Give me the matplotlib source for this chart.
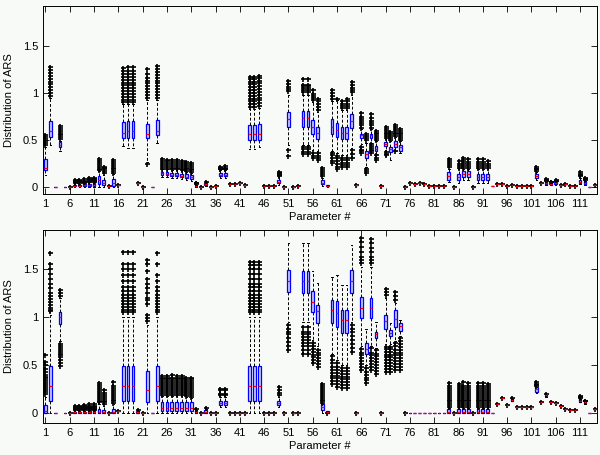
import numpy as np
import matplotlib
matplotlib.use("Agg")
import matplotlib.pyplot as plt

plt.rcParams["font.family"] = ["Liberation Sans", "DejaVu Sans"]

# parameter numbers 1..114
params = list(range(1, 115))
xtick_vals = list(range(1, 115, 5))
ytick_vals = [0, 0.5, 1, 1.5]
ytick_labels = ["0", "0.5", "1", "1.5"]

# ---- top panel: whisker low, q1, median, q3, whisker high ----
top_lo = [0.13, 0.45, 0, 0.38, 0, 0, 0, 0, 0, 0,
          0, 0, 0, 0.02, 0, 0.03, 0.44, 0.42, 0.42, 0.045,
          0, 0.27, 0, 0.47, 0.11, 0.11, 0.10, 0.10, 0.09, 0.08,
          0.07, 0, 0, 0.02, 0, 0.01, 0.10, 0.10, 0.04, 0.035,
          0.05, 0.03, 0.41, 0.41, 0.43, 0.01, 0.01, 0.01, 0.03, 0,
          0.45, 0, 0.015, 0.45, 0.45, 0.40, 0.38, 0.02, 0, 0.38,
          0.36, 0.34, 0.34, 0.42, 0.03, 0.46, 0.22, 0.47, 0.35, 0.01,
          0.40, 0.29, 0.39, 0.36, 0, 0.046, 0.04, 0.045, 0.04, 0.01,
          0.02, 0.02, 0.02, 0.06, 0, 0.05, 0.08, 0.08, 0, 0.05,
          0.05, 0.05, 0.01, 0.035, 0.04, 0.01, 0.03, 0.02, 0.02, 0.02,
          0.02, 0.08, 0.045, 0.03, 0.03, 0.03, 0.03, 0.035, 0.02, 0.01,
          0.04, 0.03, 0, 0.03]
top_q1 = [0.18, 0.53, 0, 0.43, 0, 0, 0.01, 0.01, 0.015, 0.02,
          0.02, 0.04, 0.03, 0.02, 0.02, 0.03, 0.52, 0.52, 0.52, 0.045,
          0, 0.52, 0, 0.55, 0.13, 0.13, 0.12, 0.12, 0.11, 0.10,
          0.09, 0.01, 0, 0.03, 0, 0.01, 0.12, 0.12, 0.04, 0.035,
          0.05, 0.03, 0.50, 0.50, 0.50, 0.01, 0.01, 0.01, 0.05, 0,
          0.64, 0, 0.015, 0.64, 0.64, 0.57, 0.51, 0.035, 0.01, 0.57,
          0.53, 0.51, 0.51, 0.63, 0.03, 0.52, 0.31, 0.52, 0.38, 0.01,
          0.44, 0.37, 0.43, 0.38, 0, 0.046, 0.04, 0.045, 0.04, 0.01,
          0.02, 0.02, 0.02, 0.08, 0, 0.08, 0.11, 0.11, 0, 0.08,
          0.08, 0.08, 0.01, 0.035, 0.04, 0.01, 0.03, 0.02, 0.02, 0.02,
          0.02, 0.10, 0.045, 0.04, 0.035, 0.04, 0.03, 0.035, 0.02, 0.01,
          0.05, 0.04, 0, 0.03]
top_med = [0.21, 0.60, 0, 0.45, 0, 0, 0.02, 0.02, 0.025, 0.03,
           0.03, 0.08, 0.05, 0.02, 0.05, 0.03, 0.58, 0.60, 0.60, 0.045,
           0, 0.57, 0, 0.60, 0.15, 0.145, 0.135, 0.135, 0.125, 0.115,
           0.105, 0.02, 0, 0.04, 0, 0.01, 0.135, 0.135, 0.04, 0.035,
           0.05, 0.03, 0.57, 0.57, 0.57, 0.01, 0.01, 0.01, 0.06, 0,
           0.72, 0, 0.015, 0.73, 0.73, 0.64, 0.58, 0.05, 0.015, 0.64,
           0.61, 0.58, 0.58, 0.70, 0.03, 0.55, 0.35, 0.55, 0.41, 0.01,
           0.46, 0.41, 0.46, 0.43, 0, 0.046, 0.04, 0.045, 0.04, 0.01,
           0.02, 0.02, 0.02, 0.12, 0, 0.11, 0.14, 0.14, 0, 0.11,
           0.11, 0.11, 0.01, 0.035, 0.04, 0.01, 0.03, 0.02, 0.02, 0.02,
           0.02, 0.12, 0.045, 0.05, 0.04, 0.05, 0.03, 0.035, 0.02, 0.01,
           0.06, 0.05, 0, 0.03]
top_q3 = [0.30, 0.70, 0, 0.48, 0, 0, 0.03, 0.03, 0.035, 0.04,
          0.045, 0.12, 0.08, 0.02, 0.09, 0.03, 0.69, 0.70, 0.70, 0.045,
          0, 0.67, 0, 0.71, 0.16, 0.16, 0.155, 0.155, 0.145, 0.14,
          0.135, 0.025, 0, 0.05, 0, 0.01, 0.15, 0.15, 0.04, 0.035,
          0.05, 0.03, 0.66, 0.66, 0.67, 0.01, 0.01, 0.01, 0.08, 0,
          0.80, 0, 0.015, 0.81, 0.81, 0.71, 0.64, 0.08, 0.03, 0.72,
          0.68, 0.64, 0.64, 0.78, 0.03, 0.57, 0.38, 0.57, 0.44, 0.01,
          0.48, 0.43, 0.49, 0.45, 0, 0.046, 0.04, 0.045, 0.04, 0.01,
          0.02, 0.02, 0.02, 0.16, 0, 0.145, 0.17, 0.17, 0, 0.14,
          0.14, 0.14, 0.01, 0.035, 0.04, 0.01, 0.03, 0.02, 0.02, 0.02,
          0.02, 0.145, 0.045, 0.06, 0.05, 0.06, 0.03, 0.035, 0.02, 0.01,
          0.08, 0.07, 0, 0.03]
top_hi = [0.43, 0.95, 0, 0.49, 0, 0, 0.04, 0.04, 0.045, 0.055,
          0.055, 0.17, 0.13, 0.02, 0.14, 0.03, 0.88, 0.88, 0.88, 0.045,
          0, 0.92, 0, 0.93, 0.19, 0.19, 0.18, 0.18, 0.17, 0.16,
          0.15, 0.03, 0, 0.055, 0, 0.01, 0.18, 0.18, 0.04, 0.035,
          0.05, 0.03, 0.83, 0.83, 0.84, 0.01, 0.01, 0.01, 0.11, 0,
          0.98, 0, 0.015, 0.98, 0.98, 0.90, 0.80, 0.10, 0.03, 0.91,
          0.92, 0.82, 0.82, 0.98, 0.03, 0.62, 0.47, 0.62, 0.49, 0.01,
          0.51, 0.49, 0.53, 0.49, 0, 0.046, 0.04, 0.045, 0.04, 0.01,
          0.02, 0.02, 0.02, 0.20, 0, 0.19, 0.20, 0.20, 0, 0.19,
          0.19, 0.19, 0.01, 0.035, 0.04, 0.01, 0.03, 0.02, 0.02, 0.02,
          0.02, 0.16, 0.045, 0.065, 0.05, 0.06, 0.03, 0.035, 0.02, 0.01,
          0.10, 0.07, 0, 0.03]

# outliers (parameter -> values)
top_out = {
    1: [0.45, 0.47, 0.49, 0.51, 0.53, 0.55],
    2: [0.97, 1.0, 1.03, 1.06, 1.09, 1.12, 1.15, 1.18, 1.21, 1.24, 1.27],
    4: [0.51, 0.53, 0.55, 0.57, 0.59, 0.61, 0.63, 0.65],
    6: [0.0],
    7: [0.045, 0.055, 0.065, 0.075],
    8: [0.045, 0.055, 0.065, 0.08],
    9: [0.05, 0.06, 0.07, 0.085],
    10: [0.06, 0.07, 0.08, 0.09, 0.1],
    11: [0.06, 0.07, 0.08, 0.09, 0.1],
    12: [0.18, 0.2, 0.22, 0.24, 0.26, 0.28, 0.3],
    13: [0.15, 0.17, 0.19, 0.21, 0.22],
    14: [0.02],
    15: [0.15, 0.17, 0.19, 0.21, 0.23, 0.25, 0.27, 0.29],
    16: [0.03],
    17: [0.9, 0.93, 0.96, 0.99, 1.02, 1.05, 1.08, 1.11, 1.14, 1.17, 1.2, 1.23, 1.26],
    18: [0.9, 0.93, 0.96, 0.99, 1.02, 1.05, 1.08, 1.11, 1.14, 1.17, 1.2, 1.23, 1.27],
    19: [0.9, 0.93, 0.96, 0.99, 1.02, 1.05, 1.08, 1.11, 1.14, 1.17, 1.2, 1.23, 1.27],
    20: [0.045],
    21: [0.0],
    22: [0.25, 0.95, 0.98, 1.01, 1.04, 1.07, 1.1, 1.13, 1.16, 1.2, 1.25],
    24: [0.95, 0.98, 1.01, 1.04, 1.07, 1.1, 1.13, 1.16, 1.19, 1.22, 1.25, 1.28],
    25: [0.2, 0.22, 0.24, 0.26, 0.28, 0.3],
    26: [0.2, 0.22, 0.24, 0.26, 0.28, 0.29],
    27: [0.19, 0.21, 0.23, 0.25, 0.27, 0.29],
    28: [0.19, 0.21, 0.23, 0.25, 0.27, 0.29],
    29: [0.18, 0.2, 0.22, 0.24, 0.26, 0.28],
    30: [0.17, 0.19, 0.21, 0.23, 0.25, 0.27],
    31: [0.16, 0.18, 0.2, 0.22, 0.24, 0.26],
    32: [0.035, 0.045, 0.05],
    33: [0.0],
    34: [0.06],
    35: [0.0],
    36: [0.01],
    37: [0.19, 0.2, 0.21, 0.22],
    38: [0.19, 0.2, 0.21, 0.23],
    39: [0.04], 40: [0.035], 41: [0.05], 42: [0.03],
    43: [0.85, 0.88, 0.91, 0.94, 0.97, 1.0, 1.03, 1.06, 1.09, 1.12, 1.15, 1.17],
    44: [0.85, 0.88, 0.91, 0.94, 0.97, 1.0, 1.03, 1.06, 1.09, 1.12, 1.15, 1.17],
    45: [0.86, 0.89, 0.92, 0.95, 0.98, 1.01, 1.04, 1.07, 1.1, 1.13, 1.16, 1.18],
    46: [0.01], 47: [0.01], 48: [0.01],
    49: [0.12, 0.13, 0.14, 0.15, 0.16],
    50: [0.0],
    51: [0.33, 0.40, 1.02, 1.04, 1.06, 1.09, 1.13],
    52: [0.0],
    53: [0.015],
    54: [0.35, 0.37, 0.41, 0.43, 1.01, 1.03, 1.05, 1.07, 1.08, 1.15],
    55: [0.35, 0.37, 0.41, 0.43, 1.01, 1.03, 1.05, 1.07, 1.08, 1.15],
    56: [0.31, 0.33, 0.36, 0.93, 0.95, 0.97, 0.99, 1.03],
    57: [0.29, 0.31, 0.33, 0.36, 0.82, 0.85, 0.88, 0.91, 0.94],
    58: [0.12, 0.14, 0.16, 0.18, 0.21],
    60: [0.26, 0.28, 0.31, 0.34, 0.36, 0.94, 0.97, 1.0, 1.03],
    61: [0.19, 0.22, 0.25, 0.28, 0.31, 0.33, 0.94],
    62: [0.22, 0.24, 0.26, 0.29, 0.31, 0.84, 0.86, 0.88, 0.91],
    63: [0.22, 0.24, 0.26, 0.29, 0.31, 0.84, 0.86, 0.88, 0.91, 0.94],
    64: [0.31, 0.35, 0.40, 1.01, 1.03, 1.05, 1.08, 1.12],
    65: [0.03],
    66: [0.36, 0.38, 0.40, 0.43, 0.63, 0.66, 0.68, 0.70, 0.72, 0.75, 0.79],
    67: [0.15, 0.17, 0.20, 0.50, 0.52, 0.54, 0.56],
    68: [0.36, 0.38, 0.40, 0.42, 0.44, 0.46, 0.63, 0.66, 0.68, 0.70, 0.73, 0.78],
    69: [0.29, 0.31, 0.34, 0.50, 0.52, 0.54, 0.56, 0.58, 0.60],
    70: [0.01],
    71: [0.34, 0.35, 0.37, 0.52, 0.54, 0.56, 0.58, 0.60, 0.62, 0.64],
    72: [0.50, 0.52, 0.54, 0.56, 0.59],
    73: [0.38, 0.54, 0.56, 0.58, 0.60, 0.62, 0.64, 0.66],
    74: [0.50, 0.52, 0.54, 0.56, 0.58, 0.60, 0.62],
    75: [0.0], 76: [0.046], 77: [0.04], 78: [0.045], 79: [0.04],
    80: [0.01], 81: [0.02], 82: [0.02], 83: [0.02],
    84: [0.22, 0.24, 0.26, 0.28, 0.30],
    85: [0.0],
    86: [0.21, 0.23, 0.25, 0.28],
    87: [0.21, 0.23, 0.25, 0.27, 0.29, 0.31],
    88: [0.21, 0.23, 0.25, 0.27, 0.30],
    89: [0.0],
    90: [0.21, 0.23, 0.25, 0.27, 0.30],
    91: [0.21, 0.23, 0.25, 0.27, 0.30],
    92: [0.21, 0.23, 0.25, 0.28],
    94: [0.035], 95: [0.04], 96: [0.01], 97: [0.03], 98: [0.02],
    99: [0.02], 100: [0.02], 101: [0.02],
    102: [0.17, 0.19, 0.20, 0.22],
    103: [0.045],
    104: [0.07, 0.08, 0.09],
    105: [0.055, 0.06],
    106: [0.065, 0.07, 0.08],
    107: [0.03], 108: [0.035], 109: [0.02], 110: [0.01],
    111: [0.12, 0.13, 0.14, 0.16],
    112: [0.08, 0.09, 0.10],
    114: [0.03],
}

# ---- bottom panel ----
bot_lo = [0, 0, 0, 0.75, 0, 0, 0, 0, 0, 0,
          0, 0, 0, 0, 0, 0.02, 0, 0, 0, 0,
          0, 0, 0, 0, 0, 0, 0, 0, 0, 0,
          0, 0, 0, 0, 0, 0, 0.06, 0.06, 0, 0,
          0, 0, 0, 0, 0, 0, 0, 0, 0.06, 0,
          0.95, 0, 0, 0.95, 0.95, 0.76, 0.70, 0, 0, 0.62,
          0.55, 0.50, 0.50, 0.95, 0, 0.70, 0.50, 0.70, 0.68, 0,
          0.72, 0.72, 0.75, 0.80, 0, 0, 0, 0, 0, 0,
          0, 0, 0, 0, 0, 0, 0, 0, 0, 0,
          0, 0, 0, 0.09, 0.16, 0.08, 0.12, 0.06, 0.06, 0.06,
          0.06, 0.21, 0.115, 0.17, 0.115, 0.105, 0.07, 0.045, 0.03, 0.03,
          0.11, 0.09, 0, 0.045]
bot_q1 = [0, 0.13, 0, 0.93, 0, 0, 0, 0, 0, 0,
          0, 0, 0, 0, 0, 0.02, 0.13, 0.13, 0.13, 0,
          0, 0.11, 0, 0.13, 0.02, 0.02, 0.02, 0.02, 0.02, 0.02,
          0.02, 0, 0, 0, 0, 0, 0.08, 0.08, 0, 0,
          0, 0, 0.13, 0.13, 0.13, 0, 0, 0, 0.08, 0,
          1.26, 0, 0, 1.25, 1.25, 1.05, 0.94, 0.035, 0, 0.94,
          0.90, 0.83, 0.83, 1.25, 0, 0.99, 0.62, 0.99, 0.78, 0,
          0.88, 0.80, 0.90, 0.86, 0, 0, 0, 0, 0, 0,
          0, 0, 0, 0, 0, 0, 0, 0, 0, 0,
          0, 0, 0, 0.09, 0.16, 0.08, 0.13, 0.06, 0.06, 0.06,
          0.06, 0.22, 0.115, 0.18, 0.115, 0.105, 0.07, 0.045, 0.03, 0.03,
          0.115, 0.10, 0, 0.045]
bot_med = [0.02, 0.28, 0, 1.0, 0, 0, 0.005, 0.005, 0.005, 0.005,
           0.005, 0.01, 0.01, 0, 0.01, 0.02, 0.28, 0.28, 0.28, 0.01,
           0, 0.24, 0, 0.28, 0.05, 0.05, 0.05, 0.05, 0.05, 0.05,
           0.05, 0.005, 0, 0.01, 0, 0, 0.10, 0.10, 0, 0,
           0, 0, 0.28, 0.28, 0.28, 0, 0, 0, 0.10, 0,
           1.38, 0, 0, 1.38, 1.38, 1.16, 1.06, 0.06, 0.01, 1.07,
           1.04, 0.97, 0.97, 1.38, 0, 1.10, 0.67, 1.10, 0.82, 0,
           0.96, 0.83, 0.98, 0.91, 0, 0, 0, 0, 0, 0,
           0, 0, 0, 0.01, 0, 0.01, 0.01, 0.01, 0, 0.01,
           0.01, 0.01, 0, 0.09, 0.16, 0.08, 0.14, 0.06, 0.06, 0.06,
           0.06, 0.245, 0.115, 0.185, 0.115, 0.105, 0.07, 0.045, 0.03, 0.03,
           0.13, 0.11, 0, 0.045]
bot_q3 = [0.08, 0.49, 0, 1.05, 0, 0, 0.015, 0.015, 0.015, 0.02,
          0.02, 0.04, 0.03, 0, 0.04, 0.02, 0.49, 0.49, 0.49, 0.02,
          0, 0.44, 0, 0.49, 0.115, 0.115, 0.115, 0.115, 0.115, 0.115,
          0.115, 0.02, 0, 0.03, 0, 0, 0.12, 0.12, 0, 0,
          0, 0, 0.49, 0.49, 0.49, 0, 0, 0, 0.12, 0,
          1.49, 0, 0, 1.48, 1.48, 1.27, 1.13, 0.09, 0.02, 1.18,
          1.17, 1.08, 1.08, 1.49, 0, 1.21, 0.73, 1.20, 0.85, 0,
          1.02, 0.87, 1.07, 0.94, 0, 0, 0, 0, 0, 0,
          0, 0, 0, 0.04, 0, 0.04, 0.04, 0.04, 0, 0.04,
          0.04, 0.04, 0, 0.09, 0.16, 0.08, 0.15, 0.06, 0.06, 0.06,
          0.06, 0.27, 0.115, 0.19, 0.115, 0.105, 0.07, 0.045, 0.03, 0.03,
          0.15, 0.115, 0, 0.045]
bot_hi = [0.17, 1.02, 0, 1.20, 0, 0, 0.025, 0.025, 0.025, 0.03,
          0.03, 0.09, 0.07, 0, 0.09, 0.02, 1.0, 1.0, 1.0, 0.02,
          0, 0.92, 0, 1.0, 0.18, 0.18, 0.18, 0.18, 0.18, 0.17,
          0.16, 0.03, 0, 0.04, 0, 0, 0.17, 0.17, 0, 0,
          0, 0, 1.0, 1.0, 1.0, 0, 0, 0, 0.17, 0,
          1.77, 0, 0, 1.77, 1.77, 1.48, 1.36, 0.09, 0.02, 1.42,
          1.44, 1.34, 1.34, 1.75, 0, 1.52, 0.88, 1.52, 0.95, 0,
          1.20, 0.94, 1.15, 0.97, 0, 0, 0, 0, 0, 0,
          0, 0, 0, 0.05, 0, 0.05, 0.05, 0.05, 0, 0.05,
          0.05, 0.05, 0, 0.09, 0.16, 0.08, 0.15, 0.06, 0.06, 0.06,
          0.06, 0.27, 0.115, 0.19, 0.115, 0.105, 0.07, 0.045, 0.03, 0.03,
          0.15, 0.115, 0, 0.045]

big_stack = [1.05, 1.08, 1.11, 1.14, 1.17, 1.2, 1.23, 1.27, 1.32, 1.38, 1.44, 1.5, 1.55, 1.68]
bot_out = {
    1: [0.2, 0.22, 0.24, 0.26, 0.28, 0.3, 0.32, 0.34, 0.36, 0.38, 0.4, 0.43, 0.46, 0.5, 0.53, 0.6],
    2: [1.06, 1.08, 1.1, 1.13, 1.16, 1.19, 1.22, 1.25, 1.3, 1.35, 1.4, 1.45, 1.5, 1.55, 1.67],
    4: [0.49, 0.52, 0.55, 0.58, 0.6, 0.62, 0.64, 0.66, 0.68, 0.7, 0.72, 1.22, 1.25, 1.28],
    6: [0.0],
    7: [0.03, 0.04, 0.05, 0.06, 0.07],
    8: [0.03, 0.04, 0.05, 0.06, 0.07],
    9: [0.03, 0.04, 0.05, 0.06, 0.07, 0.08],
    10: [0.035, 0.045, 0.055, 0.065, 0.075, 0.09],
    11: [0.035, 0.045, 0.055, 0.065, 0.075, 0.09],
    12: [0.11, 0.13, 0.15, 0.17, 0.19, 0.21, 0.23, 0.25, 0.27, 0.29, 0.31],
    13: [0.09, 0.11, 0.13, 0.15, 0.17, 0.19, 0.21, 0.24],
    14: [0.0],
    15: [0.1, 0.12, 0.14, 0.16, 0.18, 0.2, 0.22, 0.24, 0.26, 0.28, 0.32],
    16: [0.02],
    17: big_stack,
    18: big_stack,
    19: big_stack,
    20: [0.03],
    21: [0.0],
    22: [0.96, 0.99, 1.02, 1.14, 1.18, 1.2, 1.25, 1.3, 1.35, 1.4, 1.48, 1.55, 1.6],
    24: [1.05, 1.08, 1.11, 1.14, 1.17, 1.2, 1.23, 1.27, 1.32, 1.38, 1.44, 1.55, 1.67],
    25: [0.19, 0.21, 0.23, 0.25, 0.27, 0.29, 0.31, 0.33, 0.35, 0.37, 0.39],
    26: [0.19, 0.21, 0.23, 0.25, 0.27, 0.29, 0.31, 0.33, 0.35, 0.37, 0.39],
    27: [0.19, 0.21, 0.23, 0.25, 0.27, 0.29, 0.31, 0.33, 0.35, 0.37, 0.40],
    28: [0.19, 0.21, 0.23, 0.25, 0.27, 0.29, 0.31, 0.33, 0.35, 0.37, 0.39],
    29: [0.19, 0.21, 0.23, 0.25, 0.27, 0.29, 0.31, 0.33, 0.35, 0.37, 0.39],
    30: [0.18, 0.2, 0.22, 0.24, 0.26, 0.28, 0.3, 0.32, 0.34, 0.37],
    31: [0.17, 0.19, 0.21, 0.23, 0.25, 0.27, 0.29, 0.31, 0.33, 0.35, 0.37],
    32: [0.04],
    33: [0.0],
    34: [0.05],
    35: [0.0], 36: [0.0],
    37: [0.19, 0.2, 0.24, 0.25],
    38: [0.19, 0.2, 0.24, 0.25],
    39: [0.0], 40: [0.0], 41: [0.0], 42: [0.0],
    43: [1.05, 1.08, 1.11, 1.14, 1.17, 1.2, 1.23, 1.27, 1.31, 1.35, 1.4, 1.45, 1.5, 1.54, 1.58],
    44: [1.05, 1.08, 1.11, 1.14, 1.17, 1.2, 1.23, 1.27, 1.31, 1.35, 1.4, 1.45, 1.5, 1.54, 1.58],
    45: [1.05, 1.08, 1.11, 1.14, 1.17, 1.2, 1.23, 1.27, 1.31, 1.35, 1.4, 1.45, 1.5, 1.54, 1.58],
    46: [0.0], 47: [0.0], 48: [0.0],
    49: [0.19, 0.21, 0.24, 0.27],
    50: [0.0],
    51: [0.66, 0.70, 0.74, 0.78, 0.82, 0.85, 0.88, 0.92],
    52: [0.0], 53: [0.0],
    54: [0.62, 0.66, 0.70, 0.73, 0.76, 0.79, 0.82, 0.85, 0.90],
    55: [0.62, 0.66, 0.70, 0.73, 0.76, 0.79, 0.82, 0.85, 0.90],
    56: [0.52, 0.55, 0.58, 0.61, 0.64, 0.67, 0.70, 0.73],
    57: [0.48, 0.51, 0.54, 0.57, 0.60, 0.63, 0.66],
    58: [0.10, 0.12, 0.14, 0.16, 0.18, 0.20, 0.22, 0.24, 0.26, 0.28, 0.30],
    59: [0.0],
    60: [0.30, 0.33, 0.36, 0.39, 0.42, 0.45, 0.48, 0.52, 0.55, 0.59],
    61: [0.27, 0.30, 0.33, 0.36, 0.39, 0.42, 0.45, 0.48, 0.52],
    62: [0.26, 0.29, 0.32, 0.35, 0.38, 0.41, 0.44, 0.47],
    63: [0.26, 0.29, 0.32, 0.35, 0.38, 0.41, 0.44, 0.47],
    64: [0.64, 0.68, 0.72, 0.76, 0.80, 0.84, 0.88, 0.92],
    65: [0.0],
    66: [0.45, 0.48, 0.51, 0.54, 0.57, 0.60, 0.63, 0.67, 1.57, 1.60, 1.63, 1.68, 1.73, 1.78, 1.83],
    67: [0.31, 0.34, 0.37, 0.40, 0.43, 0.47],
    68: [0.45, 0.48, 0.51, 0.54, 0.57, 0.60, 0.63, 0.68, 1.57, 1.60, 1.63, 1.68, 1.72, 1.77, 1.82],
    69: [0.41, 0.44, 0.47, 0.50, 0.53, 0.56, 0.59, 0.62, 0.66],
    70: [0.0],
    71: [0.43, 0.46, 0.49, 0.52, 0.55, 0.58, 0.61, 0.64, 0.67, 0.69, 1.23, 1.26, 1.29],
    72: [0.43, 0.46, 0.49, 0.52, 0.55, 0.58, 0.61, 0.64, 0.67, 0.69],
    73: [0.45, 0.48, 0.51, 0.54, 0.57, 0.60, 0.63, 0.66, 0.70, 0.73, 1.18, 1.22, 1.26],
    74: [0.45, 0.48, 0.51, 0.54, 0.57, 0.60, 0.63, 0.66, 0.69, 0.72, 0.75, 0.78],
    75: [0.0],
    84: [0.06, 0.08, 0.10, 0.12, 0.14, 0.16, 0.18, 0.20, 0.22, 0.24, 0.26, 0.28, 0.31],
    85: [0.0],
    86: [0.06, 0.08, 0.10, 0.12, 0.14, 0.16, 0.18, 0.20, 0.22, 0.24, 0.26, 0.28, 0.30],
    87: [0.06, 0.08, 0.10, 0.12, 0.14, 0.16, 0.18, 0.20, 0.22, 0.24, 0.26, 0.28, 0.32],
    88: [0.06, 0.08, 0.10, 0.12, 0.14, 0.16, 0.18, 0.20, 0.22, 0.24, 0.26, 0.28, 0.31],
    89: [0.0],
    90: [0.06, 0.08, 0.10, 0.12, 0.14, 0.16, 0.18, 0.20, 0.22, 0.24, 0.26, 0.28, 0.31],
    91: [0.06, 0.08, 0.10, 0.12, 0.14, 0.16, 0.18, 0.20, 0.22, 0.24, 0.26, 0.28, 0.31],
    92: [0.06, 0.08, 0.10, 0.12, 0.14, 0.16, 0.18, 0.20, 0.22, 0.24, 0.26, 0.28, 0.30],
    94: [0.09], 95: [0.16], 96: [0.08], 97: [0.16],
    98: [0.06], 99: [0.06], 100: [0.06], 101: [0.06],
    102: [0.28, 0.29, 0.30, 0.32],
    103: [0.115], 104: [0.20], 105: [0.115], 106: [0.105],
    107: [0.07], 108: [0.045], 109: [0.03], 110: [0.03],
    111: [0.16, 0.17, 0.18],
    112: [0.12, 0.13],
    114: [0.045],
}


def make_stats(lo, q1, med, q3, hi, out):
    stats = []
    for i, p in enumerate(params):
        stats.append(dict(whislo=lo[i], q1=q1[i], med=med[i], q3=q3[i],
                          whishi=hi[i], fliers=out.get(p, [])))
    return stats


def draw_panel(ax, stats, ylim):
    ax.bxp(stats, positions=params, widths=0.55, capwidths=0.3,
           showfliers=True, patch_artist=True,
           boxprops=dict(edgecolor="#0000ff", facecolor="#c8ccff", linewidth=0.9),
           medianprops=dict(color="#ff0000", linewidth=0.9),
           whiskerprops=dict(color="black", linestyle=(0, (3, 2)), linewidth=0.7),
           capprops=dict(color="black", linewidth=0.7),
           flierprops=dict(marker="+", markeredgecolor="black",
                           markersize=3.6, markeredgewidth=1.2))
    ax.set_xlim(0.5, 114.5)
    ax.set_ylim(*ylim)
    ax.set_xticks(xtick_vals)
    ax.set_xticklabels([str(v) for v in xtick_vals])
    ax.set_yticks(ytick_vals)
    ax.set_yticklabels(ytick_labels)
    ax.tick_params(direction="in", top=True, right=True, labelsize=8,
                   length=4, width=0.6, colors="black")
    for s in ax.spines.values():
        s.set_linewidth(0.7)
    ax.set_facecolor("#f8faf8")
    ax.set_xlabel("Parameter #", fontsize=8, labelpad=2)
    ax.set_ylabel("Distribution of ARS", fontsize=8, labelpad=6)


fig = plt.figure(figsize=(6.0, 4.55), dpi=100, facecolor="#f8faf8")
ax1 = fig.add_axes([0.0717, 0.5736, 0.9233, 0.4132])
ax2 = fig.add_axes([0.0717, 0.0703, 0.9233, 0.4242])

draw_panel(ax1, make_stats(top_lo, top_q1, top_med, top_q3, top_hi, top_out), (-0.07, 1.92))
draw_panel(ax2, make_stats(bot_lo, bot_q1, bot_med, bot_q3, bot_hi, bot_out), (-0.105, 1.91))

fig.savefig("out.png", dpi=100, facecolor=fig.get_facecolor())
